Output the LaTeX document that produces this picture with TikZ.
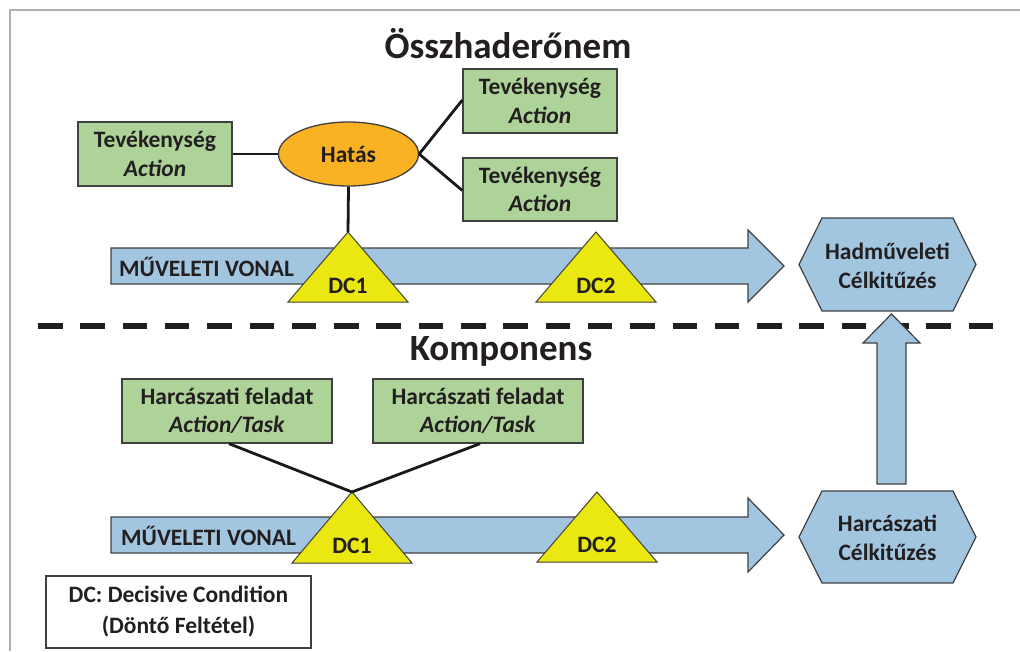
\documentclass[tikz,border=0pt]{standalone}
\usepackage{fontspec}
\setmainfont{Carlito}
\usetikzlibrary{shapes.geometric}

\definecolor{boxgreen}{RGB}{174,211,152}
\definecolor{effectorange}{RGB}{249,178,35}
\definecolor{lineblue}{RGB}{163,198,224}
\definecolor{dcyellow}{RGB}{234,232,16}
\definecolor{edgegray}{RGB}{64,64,64}
\definecolor{inkdark}{RGB}{35,31,32}
\definecolor{framegray}{RGB}{175,175,175}

\newcommand\labelfont{\fontsize{23.5}{28.5}\selectfont\bfseries}
\newcommand\legendfont{\fontsize{23.5}{31}\selectfont\bfseries}
\newcommand\headfont{\fontsize{37}{40}\selectfont\bfseries}

\tikzset{
  greenbox/.style={rectangle, draw=edgegray, fill=boxgreen, line width=1.3pt,
    align=center, inner sep=0pt, text=inkdark, font=\labelfont},
  effect/.style={ellipse, draw=edgegray, fill=effectorange, line width=1.3pt,
    minimum width=140pt, minimum height=64pt, inner sep=0pt, text=inkdark, font=\labelfont},
  bluefill/.style={draw=edgegray, fill=lineblue, line width=1.2pt, line join=miter},
  dcshape/.style={draw=edgegray, fill=dcyellow, line width=1pt, line join=miter},
  plaintext/.style={inner sep=0pt, text=inkdark, font=\labelfont, align=center},
  headtext/.style={inner sep=0pt, text=inkdark, font=\headfont},
  link/.style={draw=black!90, line width=2.8pt},
  legendbox/.style={rectangle, draw=edgegray, fill=white, line width=1.2pt,
    align=center, inner sep=0pt, text=inkdark, font=\legendfont,
    minimum width=265pt, minimum height=72pt}
}

\begin{document}
\begin{tikzpicture}[x=1pt, y=-1pt]
\useasboundingbox (0,0) rectangle (1020,651);

% frame lines along the top and left
\draw[framegray, line width=2pt] (10,651) -- (10,10) -- (1020,10);

% section titles
\node[headtext] (t1) at (508,44) {Összhaderőnem};
\node[headtext] (t2) at (501,351) {Komponens};

% separator between the two levels
\draw[black!88, line width=6.5pt, dash pattern=on 24.5pt off 17.8pt] (38,326) -- (1000,326);

% ---------- upper level ----------
% line of operation arrow
\draw[bluefill] (111,248) -- (748,248) -- (748,230) -- (784,266) -- (748,302)
  -- (748,284) -- (111,284) -- cycle;
\node[plaintext, anchor=west] (lo1) at (119,267) {MŰVELETI VONAL};

% operational objective
\draw[bluefill] (799,264.5) -- (822,218) -- (953,218) -- (976,264.5) -- (953,311)
  -- (822,311) -- cycle;
\node[plaintext] (obj1) at (887.5,266) {Hadműveleti\\Célkitűzés};

% decisive conditions
\coordinate (dc1a) at (348,232);
\draw[dcshape] (dc1a) -- (408,302) -- (288,302) -- cycle;
\node[plaintext] (dc1l) at (348,286) {DC1};
\coordinate (dc2a) at (596,232);
\draw[dcshape] (dc2a) -- (656,302) -- (536,302) -- cycle;
\node[plaintext] (dc2l) at (596,286) {DC2};

% effect and actions
\node[effect] (eff) at (348.5,154) {Hatás};
\node[greenbox, minimum width=154pt, minimum height=64pt] (actL) at (155,154)
  {Tevékenység\\\textit{Action}};
\node[greenbox, minimum width=154pt, minimum height=64pt] (actR1) at (540,101)
  {Tevékenység\\\textit{Action}};
\node[greenbox, minimum width=154pt, minimum height=63pt] (actR2) at (540,189.5)
  {Tevékenység\\\textit{Action}};

\draw[link] (actL.east) -- (eff.west);
\draw[link] (eff.east) -- ([yshift=1pt]actR1.west);
\draw[link] (eff.east) -- ([yshift=-1pt]actR2.west);
\draw[link] (eff.south) -- (dc1a);

% ---------- lower level ----------
% upward arrow between the objectives
\draw[bluefill] (891.5,314) -- (920,343) -- (906,343) -- (906,484) -- (877,484)
  -- (877,343) -- (863,343) -- cycle;

\draw[bluefill] (111,517) -- (748,517) -- (748,498) -- (784,535) -- (748,572)
  -- (748,553) -- (111,553) -- cycle;
\node[plaintext, anchor=west] (lo2) at (121,536) {MŰVELETI VONAL};

% tactical objective
\draw[bluefill] (799,537) -- (822,491) -- (953,491) -- (976,537) -- (953,583)
  -- (822,583) -- cycle;
\node[plaintext] (obj2) at (887.5,538) {Harcászati\\Célkitűzés};

\coordinate (dc3a) at (352,492);
\draw[dcshape] (dc3a) -- (412,563) -- (292,563) -- cycle;
\node[plaintext] (dc3l) at (352,546) {DC1};
\coordinate (dc4a) at (597,492);
\draw[dcshape] (dc4a) -- (657,562) -- (537,562) -- cycle;
\node[plaintext] (dc4l) at (597,545) {DC2};

% tactical tasks
\node[greenbox, minimum width=210pt, minimum height=64pt] (taskA) at (227,411)
  {Harcászati feladat\\\textit{Action/Task}};
\node[greenbox, minimum width=210pt, minimum height=64pt] (taskB) at (478,411)
  {Harcászati feladat\\\textit{Action/Task}};

\draw[link] ([xshift=2pt]taskA.south) -- (dc3a);
\draw[link] ([xshift=2pt]taskB.south) -- (dc3a);

% legend
\node[legendbox] (legend) at (178.5,612) {DC: Decisive Condition\\(Döntő Feltétel)};

\end{tikzpicture}
\end{document}
